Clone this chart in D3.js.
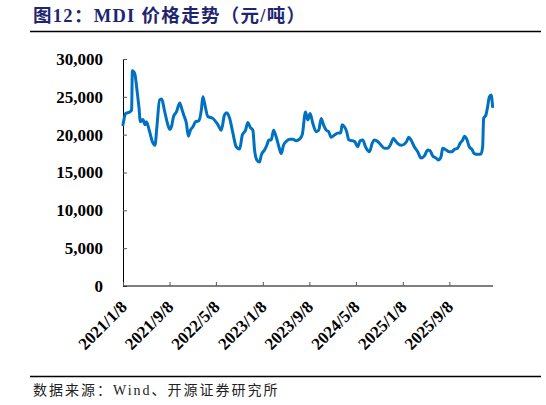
<!DOCTYPE html>
<html><head><meta charset="utf-8">
<script src="https://cdn.jsdelivr.net/npm/d3@7"></script>
<style>
html,body{margin:0;padding:0;background:#fff;}
svg{display:block;}
</style></head>
<body>
<svg id="c" width="546" height="405"></svg>
<script>
const titleText = "图12：MDI 价格走势（元/吨）";
const sourceText = "数据来源：Wind、开源证券研究所";
const dates = ["2021-01-08","2021-01-22","2021-02-12","2021-02-22","2021-02-26","2021-03-10","2021-03-22","2021-04-01","2021-04-09","2021-04-22","2021-05-03","2021-05-10","2021-05-27","2021-06-10","2021-06-24","2021-07-04","2021-07-18","2021-07-29","2021-08-12","2021-08-26","2021-09-09","2021-09-19","2021-09-29","2021-10-14","2021-10-31","2021-11-10","2021-11-21","2021-12-05","2021-12-15","2021-12-26","2022-01-08","2022-01-22","2022-02-08","2022-02-21","2022-03-01","2022-03-10","2022-03-27","2022-04-22","2022-05-19","2022-06-05","2022-06-22","2022-07-04","2022-07-19","2022-08-05","2022-08-22","2022-09-09","2022-09-23","2022-10-10","2022-10-22","2022-11-04","2022-11-17","2022-11-26","2022-12-08","2022-12-22","2022-12-31","2023-01-17","2023-01-29","2023-02-09","2023-02-21","2023-03-05","2023-03-19","2023-04-02","2023-04-14","2023-04-26","2023-05-10","2023-05-28","2023-06-14","2023-07-01","2023-07-19","2023-08-02","2023-08-19","2023-08-31","2023-09-12","2023-09-26","2023-10-14","2023-10-27","2023-11-09","2023-11-21","2023-12-05","2023-12-18","2023-12-31","2024-01-17","2024-02-03","2024-02-19","2024-02-26","2024-03-09","2024-03-21","2024-04-01","2024-04-19","2024-05-01","2024-05-18","2024-05-30","2024-06-13","2024-06-27","2024-07-18","2024-08-01","2024-08-13","2024-08-30","2024-09-17","2024-10-04","2024-10-21","2024-11-03","2024-11-20","2024-11-30","2024-12-12","2024-12-30","2025-01-16","2025-01-28","2025-02-08","2025-02-20","2025-03-09","2025-03-27","2025-04-13","2025-05-01","2025-05-18","2025-05-30","2025-06-13","2025-07-01","2025-07-14","2025-07-27","2025-08-04","2025-08-22","2025-09-08","2025-09-22","2025-10-04","2025-10-21","2025-11-03","2025-11-17","2025-11-26","2025-12-08","2025-12-21","2026-01-04","2026-01-16","2026-02-03","2026-02-20","2026-03-01","2026-03-06","2026-03-18","2026-03-27","2026-04-05","2026-04-14","2026-04-22"];
const prices = [21300,22800,23000,23260,28450,28100,25900,23700,21700,22000,21300,21700,20400,19100,18600,21050,24600,24700,23260,21700,20700,21150,22400,23000,24200,23500,22600,21500,19800,20600,21050,21700,21850,23260,25000,24150,22400,22150,21300,20600,22600,22900,22150,20200,18400,18100,19950,20600,21600,20950,20600,17970,16650,16400,17300,17970,18600,19300,19300,20600,19700,18400,17500,18600,19100,19400,19400,19200,19400,20000,23000,21950,22800,21500,20400,20600,22150,21300,20600,20400,19650,19950,20200,20250,21300,21050,20400,19300,19200,19100,18400,19200,19300,18400,17750,18850,19300,19100,18600,18200,18200,18600,19500,19200,18850,18600,18750,19100,19650,19300,18400,17750,16900,17200,17970,17900,17200,16900,16650,17100,18200,17970,17750,17750,18050,18200,18850,19300,19800,19400,18400,18050,17500,17400,17450,18400,22150,22600,23700,25000,25250,23700];
const yTicks = [0,5000,10000,15000,20000,25000,30000];
const xTickLabels = ["2021/1/8","2021/9/8","2022/5/8","2023/1/8","2023/9/8","2024/5/8","2025/1/8","2025/9/8"];

const parse = d3.timeParse("%Y-%m-%d");
const parseTick = d3.timeParse("%Y/%m/%d");
const data = dates.map((d,i)=>({date:parse(d), v:prices[i]}));

const svg = d3.select("#c");
const L = 123, R = 493, T = 59, B = 286;

const x = d3.scaleTime().domain([parse("2021-01-08"), parse("2026-04-24")]).range([L, R]);
const y = d3.scaleLinear().domain([0, 30000]).range([B, T]);

// title
svg.append("text").attr("x", 33).attr("y", 22)
  .attr("fill", "#1f2670")
  .style("font-family", "'Liberation Serif','Noto Sans CJK SC',serif")
  .style("font-weight", "700").style("font-size", "18.5px")
  .style("letter-spacing", "1.3px")
  .text(titleText);
svg.append("line").attr("x1", 30).attr("x2", 541).attr("y1", 31.5).attr("y2", 31.5)
  .attr("stroke", "#000").attr("stroke-width", 1.3);

// y axis
const yAxis = d3.axisLeft(y).tickValues(yTicks).tickSize(0).tickPadding(20)
  .tickFormat(d3.format(","));
const gy = svg.append("g").attr("transform", `translate(${L},0)`).call(yAxis);
gy.select(".domain").remove();
gy.selectAll("text").style("font-family", "'Liberation Serif',serif")
  .style("font-weight", "700").style("font-size", "17px").attr("fill", "#000");
const gyi = svg.append("g").attr("transform", `translate(${L},0)`)
  .call(d3.axisRight(y).tickValues(yTicks).tickSize(4).tickFormat(""));
gyi.select(".domain").attr("stroke", "#000");
gyi.selectAll("line").attr("stroke", "#555");

// x axis
const xTickDates = xTickLabels.map(s => parseTick(s));
const gx = svg.append("g").attr("transform", `translate(0,${B})`)
  .call(d3.axisTop(x).tickValues(xTickDates).tickSize(4).tickFormat(""));
gx.select(".domain").attr("stroke", "#000").attr("d", `M${L},0H${R}`);
gx.selectAll("line").attr("stroke", "#555");
xTickDates.forEach((d,i)=>{
  svg.append("text")
    .attr("transform", `translate(${x(d)+5},${B+22}) rotate(-45)`)
    .attr("text-anchor", "end")
    .style("font-family", "'Liberation Serif',serif")
    .style("font-weight", "700").style("font-size", "17px")
    .attr("fill", "#000")
    .text(xTickLabels[i]);
});

// line
const line = d3.line().x(d=>x(d.date)).y(d=>y(d.v)).curve(d3.curveMonotoneX);
svg.append("path").datum(data).attr("d", line)
  .attr("fill", "none").attr("stroke", "#0070c0").attr("stroke-width", 3)
  .attr("stroke-linejoin", "round").attr("stroke-linecap", "round");

// source
svg.append("line").attr("x1", 30).attr("x2", 541).attr("y1", 376.5).attr("y2", 376.5)
  .attr("stroke", "#000").attr("stroke-width", 1.3);
svg.append("text").attr("x", 33).attr("y", 395)
  .attr("fill", "#222")
  .style("font-family", "'Liberation Serif','Noto Sans CJK SC',serif")
  .style("font-size", "14px").style("letter-spacing", "2px")
  .text(sourceText);
</script>
</body></html>
